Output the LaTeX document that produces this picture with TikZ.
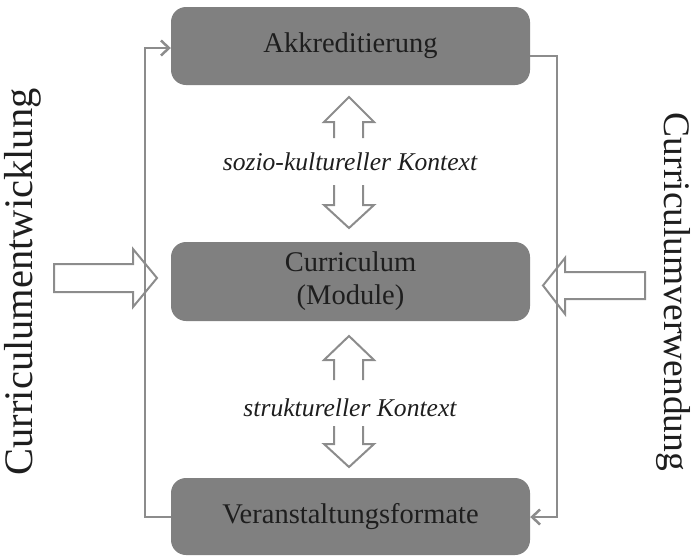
\documentclass[tikz,border=0pt]{standalone}
\usepackage{fontspec}
\setmainfont{Liberation Serif}
\usetikzlibrary{arrows.meta}
\definecolor{boxgray}{HTML}{808080}
\definecolor{linegray}{HTML}{8C8C8C}
\definecolor{inkdark}{HTML}{1E1E1E}
\tikzset{
  stage/.style={fill=boxgray, rounded corners=15pt, minimum width=359pt,
    text=inkdark, font=\fontsize{28.5}{33}\selectfont, align=center, inner sep=0pt},
  flow/.style={draw=linegray, line width=2.5pt},
  flowtip/.style={flow, -{Straight Barb[length=8pt,width=15pt,line width=2.5pt]}},
  hollow/.style={draw=linegray, line width=2pt, line join=miter},
  ctx/.style={text=inkdark, font=\fontsize{25.6}{30}\selectfont\itshape},
  side/.style={text=inkdark, inner sep=0pt}
}
\begin{document}
\begin{tikzpicture}[x=1pt, y=-1pt]
  \useasboundingbox (0,0) rectangle (693,555);

  % the three stages
  \node[stage, minimum height=78pt] (akk) at (350.5,46) {Akkreditierung};
  \node[stage, minimum height=79pt] (cur) at (350.5,281.5) {Curriculum\\(Module)};
  \node[stage, minimum height=77pt] (ver) at (350.5,516.5) {Veranstaltungsformate};

  % context labels
  \node[ctx] (soz) at (350,162) {sozio-kultureller Kontext};
  \node[ctx] (str) at (350,408) {struktureller Kontext};

  % side labels
  \node[side, rotate=90, font=\fontsize{40.5}{44}\selectfont] (entw) at (23,282) {Curriculumentwicklung};
  \node[side, rotate=-90, font=\fontsize{37.5}{42}\selectfont] (verw) at (673,292) {Curriculumverwendung};

  % feedback loops round the stages
  \coordinate (lb) at (145,517);
  \coordinate (lt) at (145,48);
  \coordinate (rt) at (557,56);
  \coordinate (rb) at (557,517);
  \draw[flowtip] (ver.west |- lb) -- (lb) -- (lt) -- (akk.west |- lt);
  \draw[flowtip] (akk.east |- rt) -- (rt) -- (rb) -- (ver.east |- rb);

  % open double arrows between the stages
  \draw[hollow] (334,138) -- (334,122) -- (324,122) -- (349,97) -- (374,122) -- (363,122) -- (363,138);
  \draw[hollow] (334,185) -- (334,205) -- (324,205) -- (349,228) -- (374,205) -- (363,205) -- (363,185);
  \draw[hollow] (334,380) -- (334,360) -- (324,360) -- (349,336) -- (374,360) -- (363,360) -- (363,380);
  \draw[hollow] (334,426) -- (334,444) -- (324,444) -- (349,467) -- (374,444) -- (363,444) -- (363,426);

  % block arrows into the curriculum
  \draw[hollow] (54,264) -- (133,264) -- (133,249) -- (157,278) -- (133,307) -- (133,292) -- (54,292) -- cycle;
  \draw[hollow] (645,272) -- (565,272) -- (565,258) -- (543,285.5) -- (565,314) -- (565,299) -- (645,299) -- cycle;
\end{tikzpicture}
\end{document}
